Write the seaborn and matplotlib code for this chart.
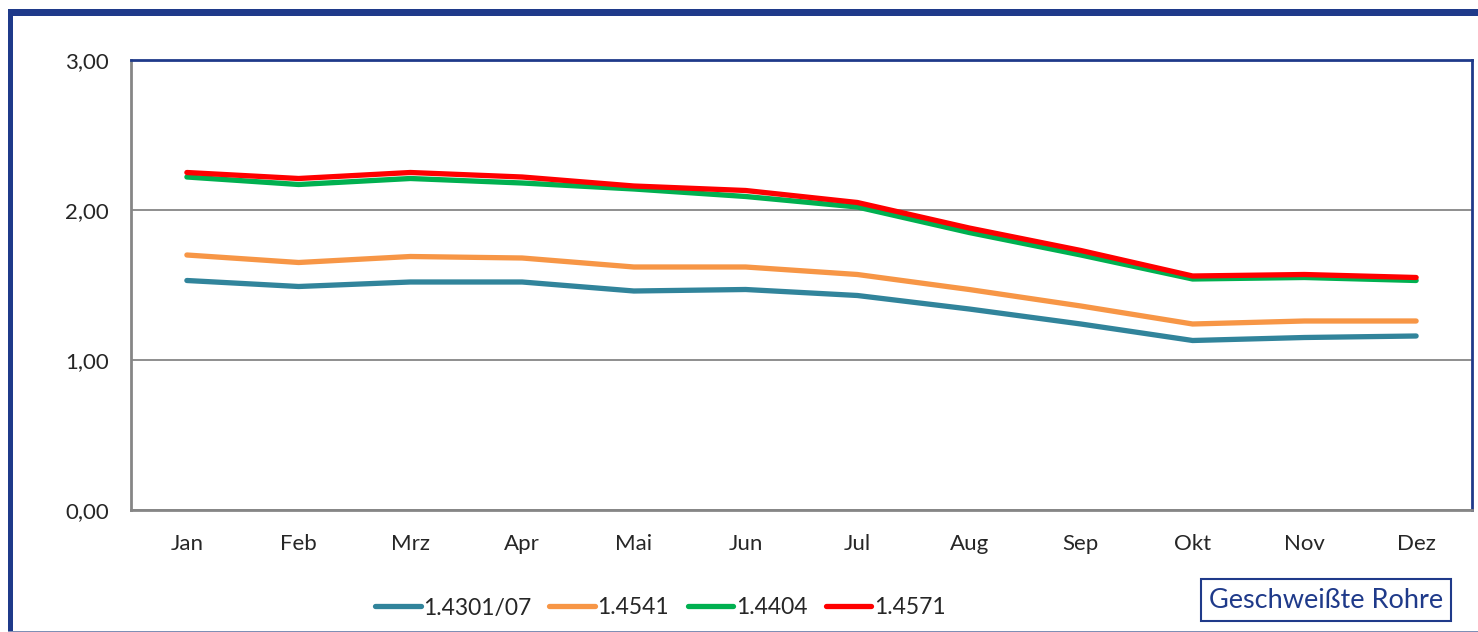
import numpy as np
import pandas as pd
import matplotlib
matplotlib.use("Agg")
import matplotlib.pyplot as plt
import seaborn as sns
from matplotlib.patches import Rectangle
from matplotlib.lines import Line2D

# data
months = ["Jan", "Feb", "Mrz", "Apr", "Mai", "Jun", "Jul", "Aug", "Sep", "Okt", "Nov", "Dez"]
series_names = ["1.4301/07", "1.4541", "1.4404", "1.4571"]
s_4301 = [1.53, 1.49, 1.52, 1.52, 1.46, 1.47, 1.43, 1.34, 1.24, 1.13, 1.15, 1.16]
s_4541 = [1.70, 1.65, 1.69, 1.68, 1.62, 1.62, 1.57, 1.47, 1.36, 1.24, 1.26, 1.26]
s_4404 = [2.22, 2.17, 2.21, 2.18, 2.14, 2.09, 2.02, 1.85, 1.70, 1.54, 1.55, 1.53]
s_4571 = [2.25, 2.21, 2.25, 2.22, 2.16, 2.13, 2.05, 1.88, 1.73, 1.56, 1.57, 1.55]
colors = ["#31849B", "#F79646", "#00B050", "#FF0000"]

rows = []
for name, vals in zip(series_names, [s_4301, s_4541, s_4404, s_4571]):
    for i, v in enumerate(vals):
        rows.append({"pos": i, "month": months[i], "value": v, "series": name})
df = pd.DataFrame(rows)

sns.set_style("white")
plt.rcParams["font.family"] = ["Lato", "DejaVu Sans"]

fig = plt.figure(figsize=(14.78, 6.32), dpi=100)
ax = fig.add_axes([131 / 1478, 1 - 510 / 632, (1472 - 131) / 1478, 450 / 632])

sns.lineplot(data=df, x="pos", y="value", hue="series", palette=colors,
             hue_order=series_names, linewidth=3.8, ax=ax, legend=False,
             sort=False, solid_capstyle="round")

ax.set_xlim(-0.5, 11.5)
ax.set_ylim(0, 3)
ax.set_xlabel("")
ax.set_ylabel("")

ax.set_yticks([0, 1, 2, 3])
ax.set_yticklabels(["0,00", "1,00", "2,00", "3,00"], fontsize=16)
ax.set_xticks(range(12))
ax.set_xticklabels(months, fontsize=16)
ax.set_xticks(np.arange(-0.5, 12, 1), minor=True)
ax.tick_params(axis="x", which="major", length=0, pad=17)
ax.tick_params(axis="x", which="minor", length=6, width=1.3, color="#868686", direction="out")
ax.tick_params(axis="y", length=6, width=1.3, color="#868686", pad=10, direction="out")
ax.yaxis.grid(True, color="#868686", linewidth=1.3)
ax.set_axisbelow(True)

for side in ["left", "bottom"]:
    ax.spines[side].set_color("#868686")
    ax.spines[side].set_linewidth(2)
for side in ["top", "right"]:
    ax.spines[side].set_color("#1F3A8A")
    ax.spines[side].set_linewidth(2)

handles = [Line2D([], [], color=c, linewidth=3.8, solid_capstyle="round") for c in colors]
fig.legend(handles, series_names, loc="center", bbox_to_anchor=(660 / 1478, 1 - 608 / 632),
           ncol=4, frameon=False, fontsize=16.5, handlelength=2.0, handletextpad=0.1,
           columnspacing=0.8, borderpad=0)

fig.text(1326 / 1478, 1 - 600 / 632, "Geschweißte Rohre", fontsize=19.5, color="#1F3A8A",
         ha="center", va="center",
         bbox=dict(boxstyle="square,pad=0.3", facecolor="white", edgecolor="#1F3A8A", linewidth=1.5))

# outer frame of the original chart
fig.patches.append(Rectangle((8 / 1478, 1 - 16 / 632), 1, 7 / 632, transform=fig.transFigure,
                             facecolor="#1F3A8A", edgecolor="none"))
fig.patches.append(Rectangle((8 / 1478, 0), 5 / 1478, 1 - 10 / 632, transform=fig.transFigure,
                             facecolor="#1F3A8A", edgecolor="none"))
fig.patches.append(Rectangle((8 / 1478, 0), 1, 1.5 / 632, transform=fig.transFigure,
                             facecolor="#7F8FB5", edgecolor="none"))

fig.savefig("out.png", dpi=100)
